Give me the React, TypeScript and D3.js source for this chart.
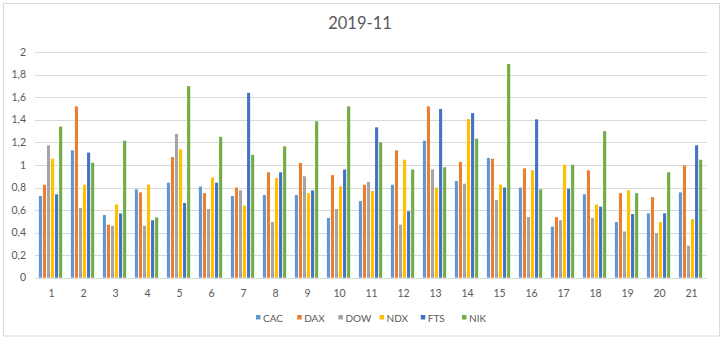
import React from "react";
import * as d3 from "d3";

const categories = ["1","2","3","4","5","6","7","8","9","10","11","12","13","14","15","16","17","18","19","20","21"];
const seriesNames = ["CAC", "DAX", "DOW", "NDX", "FTS", "NIK"];
const seriesColors = ["#5B9BD5", "#ED7D31", "#A5A5A5", "#FFC000", "#4472C4", "#70AD47"];
const CAC = [0.725,1.13,0.556,0.784,0.843,0.808,0.725,0.734,0.734,0.53,0.68,0.825,1.216,0.858,1.062,0.80,0.453,0.74,0.494,0.571,0.757];
const DAX = [0.825,1.52,0.47,0.757,1.07,0.75,0.80,0.935,1.018,0.91,0.825,1.13,1.52,1.027,1.056,0.97,0.538,0.953,0.75,0.716,0.997];
const DOW = [1.175,0.62,0.46,0.46,1.275,0.61,0.775,0.494,0.90,0.61,0.85,0.47,0.96,0.834,0.69,0.538,0.51,0.53,0.41,0.396,0.284];
const NDX = [1.056,0.825,0.65,0.825,1.14,0.89,0.64,0.885,0.75,0.81,0.77,1.047,0.80,1.408,0.825,0.953,1.003,0.648,0.775,0.494,0.52];
const FTS = [0.74,1.11,0.57,0.51,0.663,0.843,1.64,0.935,0.775,0.96,1.334,0.59,1.497,1.46,0.80,1.405,0.79,0.63,0.565,0.571,1.175];
const NIK = [1.34,1.02,1.216,0.535,1.70,1.25,1.09,1.166,1.388,1.52,1.20,0.96,0.98,1.234,1.896,0.784,1.003,1.30,0.75,0.935,1.047];
const seriesValues = [CAC, DAX, DOW, NDX, FTS, NIK];
const yTicks = [0, 0.2, 0.4, 0.6, 0.8, 1, 1.2, 1.4, 1.6, 1.8, 2];

const W = 725, H = 342;
const left = 35, right = 707, top = 52.3, bottom = 277.7;
const font = "Lato, 'Open Sans', sans-serif";
const textColor = "#595959";

export default function App() {
  const x = d3.scaleBand<string>().domain(categories).range([left, right]).paddingInner(0).paddingOuter(0);
  const y = d3.scaleLinear().domain([0, 2]).range([bottom, top]);
  const gw = x.bandwidth();
  const slot = 4.05;
  const barW = 3.1;
  const groupSpan = slot * seriesNames.length;
  const fmt = (v: number) => (Math.round(v * 10) / 10).toString().replace(".", ",");
  const legendStart = 256;
  const legendStep = 41.2;
  return (
    <svg width={W} height={H} style={{ position: "fixed", left: 0, top: 0, background: "#fff" }}>
      <rect x={0} y={0} width={W} height={H} fill="#fff" />
      <rect x={3.5} y={3.5} width={716} height={332.5} fill="none" stroke="#d9d9d9" strokeWidth={1} />
      <text x={360} y={29} textAnchor="middle" fontFamily={font} fontSize={16.5} fill={textColor}>2019-11</text>
      {yTicks.map((t) => (
        <g key={t}>
          <line x1={left} x2={right} y1={Math.round(y(t)) + 0.5} y2={Math.round(y(t)) + 0.5} stroke="#d9d9d9" strokeWidth={1} />
          <text x={26} y={y(t) + 3.5} textAnchor="end" fontFamily={font} fontSize={10.5} fill={textColor}>{fmt(t)}</text>
        </g>
      ))}
      {categories.map((c, i) => {
        const gx = (x(c) as number) + (gw - groupSpan) / 2;
        return (
          <g key={c}>
            {seriesValues.map((vals, s) => (
              <rect key={s} x={gx + s * slot} y={y(vals[i])} width={barW} height={bottom - y(vals[i])} fill={seriesColors[s]} />
            ))}
            <text x={(x(c) as number) + gw / 2 + 0.5} y={297} textAnchor="middle" fontFamily={font} fontSize={10.5} fill={textColor}>{c}</text>
          </g>
        );
      })}
      {seriesNames.map((n, s) => (
        <g key={n}>
          <rect x={legendStart + s * legendStep} y={315} width={4.5} height={4.5} fill={seriesColors[s]} />
          <text x={legendStart + s * legendStep + 7} y={321.5} fontFamily={font} fontSize={10} fill={textColor}>{n}</text>
        </g>
      ))}
    </svg>
  );
}
